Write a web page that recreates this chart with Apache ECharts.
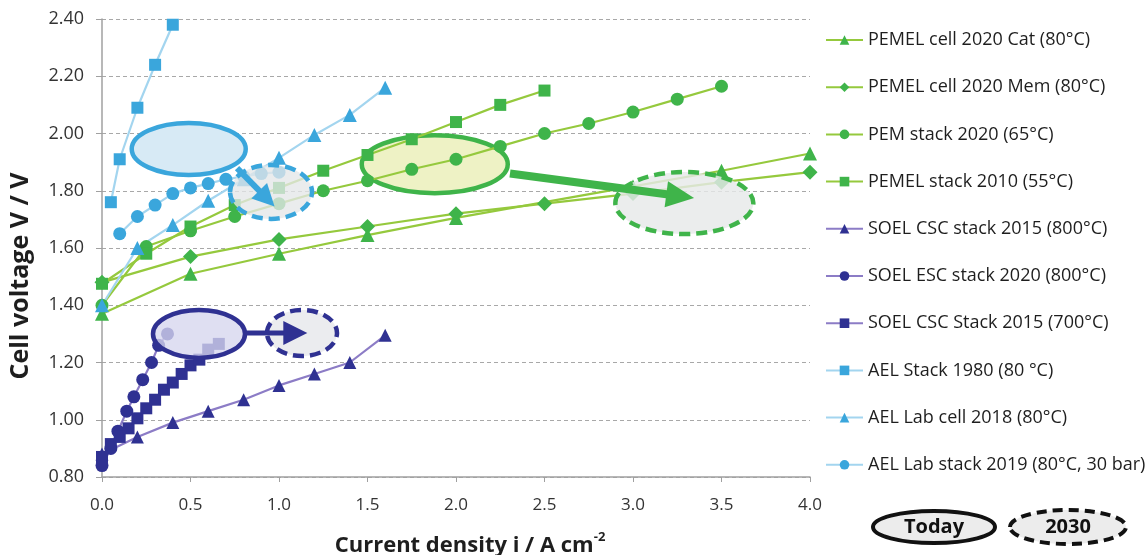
<!DOCTYPE html>
<html>
<head>
<meta charset="utf-8">
<script src="https://cdn.jsdelivr.net/npm/echarts@6/dist/echarts.min.js"></script>
<style>
  html, body { margin: 0; padding: 0; background: #fff; }
  #chart { width: 1146px; height: 555px; }
</style>
</head>
<body>
<div id="chart"></div>
<script>
// Polarisation curves: current density (A/cm²) vs cell voltage (V)
const xTicks = [0, 0.5, 1.0, 1.5, 2.0, 2.5, 3.0, 3.5, 4.0];
const yTicks = [0.8, 1.0, 1.2, 1.4, 1.6, 1.8, 2.0, 2.2, 2.4];

const pemCellCatI = [0, 0.5, 1.0, 1.5, 2.0, 3.0, 3.5, 4.0];
const pemCellCatV = [1.37, 1.51, 1.58, 1.645, 1.705, 1.815, 1.87, 1.93];

const pemCellMemI = [0, 0.5, 1.0, 1.5, 2.0, 2.5, 3.0, 3.5, 4.0];
const pemCellMemV = [1.48, 1.57, 1.63, 1.675, 1.72, 1.755, 1.79, 1.83, 1.865];

const pemStack2020I = [0, 0.25, 0.5, 0.75, 1.0, 1.25, 1.5, 1.75, 2.0, 2.25, 2.5, 2.75, 3.0, 3.25, 3.5];
const pemStack2020V = [1.40, 1.605, 1.66, 1.71, 1.755, 1.80, 1.835, 1.875, 1.91, 1.955, 2.00, 2.035, 2.075, 2.12, 2.165];

const pemStack2010I = [0, 0.25, 0.5, 0.75, 1.0, 1.25, 1.5, 1.75, 2.0, 2.25, 2.5];
const pemStack2010V = [1.475, 1.58, 1.675, 1.75, 1.81, 1.87, 1.925, 1.98, 2.04, 2.10, 2.15];

const soelCsc800I = [0, 0.2, 0.4, 0.6, 0.8, 1.0, 1.2, 1.4, 1.6];
const soelCsc800V = [0.88, 0.94, 0.99, 1.03, 1.07, 1.12, 1.16, 1.20, 1.295];

const soelEscI = [0, 0.05, 0.09, 0.14, 0.18, 0.23, 0.28, 0.32, 0.37];
const soelEscV = [0.84, 0.90, 0.96, 1.03, 1.08, 1.14, 1.20, 1.26, 1.30];

const soelCsc700I = [0, 0.05, 0.1, 0.15, 0.2, 0.25, 0.3, 0.35, 0.4, 0.45, 0.5, 0.55, 0.6, 0.66];
const soelCsc700V = [0.87, 0.915, 0.94, 0.97, 1.005, 1.04, 1.07, 1.105, 1.13, 1.16, 1.19, 1.21, 1.245, 1.265];

const aelStack1980I = [0.05, 0.1, 0.2, 0.3, 0.4];
const aelStack1980V = [1.76, 1.91, 2.09, 2.24, 2.38];

const aelLabCellI = [0, 0.2, 0.4, 0.6, 0.8, 1.0, 1.2, 1.4, 1.6];
const aelLabCellV = [1.40, 1.60, 1.68, 1.765, 1.84, 1.915, 1.995, 2.065, 2.16];

const aelLabStackI = [0.1, 0.2, 0.3, 0.4, 0.5, 0.6, 0.7, 0.8, 0.9, 1.0];
const aelLabStackV = [1.65, 1.71, 1.75, 1.79, 1.81, 1.825, 1.84, 1.85, 1.86, 1.865];

const seriesNames = [
  'PEMEL cell 2020 Cat (80°C)',
  'PEMEL cell 2020 Mem (80°C)',
  'PEM stack 2020 (65°C)',
  'PEMEL stack 2010 (55°C)',
  'SOEL CSC stack 2015 (800°C)',
  'SOEL ESC stack 2020 (800°C)',
  'SOEL CSC Stack 2015 (700°C)',
  'AEL Stack 1980 (80 °C)',
  'AEL Lab cell 2018 (80°C)',
  'AEL Lab stack 2019 (80°C, 30 bar)'
];

const xTitle = 'Current density i / A cm';
const xTitleSup = '-2';
const yTitle = 'Cell voltage V / V';

const FONT = '"Open Sans", "Noto Sans", sans-serif';
const GREEN_LINE = '#95c93d', GREEN_MARK = '#3fb44a';
const PURPLE_LINE = '#8c7cc6', PURPLE_MARK = '#2f3192';
const BLUE_LINE = '#a3d5ef', BLUE_MARK = '#3aa6dc';

function pairs(xs, ys) { return xs.map((x, i) => [x, ys[i]]); }

function curve(name, xs, ys, symbol, size, lineColor, markColor) {
  return {
    name, type: 'line', data: pairs(xs, ys),
    symbol, symbolSize: size, showSymbol: true,
    lineStyle: { color: lineColor, width: 2.2 },
    itemStyle: { color: markColor },
    emphasis: { disabled: true },
    animation: false
  };
}

const series = [
  curve(seriesNames[0], pemCellCatI, pemCellCatV, 'triangle', 14, GREEN_LINE, GREEN_MARK),
  curve(seriesNames[1], pemCellMemI, pemCellMemV, 'diamond', 15, GREEN_LINE, GREEN_MARK),
  curve(seriesNames[2], pemStack2020I, pemStack2020V, 'circle', 13, GREEN_LINE, GREEN_MARK),
  curve(seriesNames[3], pemStack2010I, pemStack2010V, 'rect', 12, GREEN_LINE, GREEN_MARK),
  curve(seriesNames[4], soelCsc800I, soelCsc800V, 'triangle', 13, PURPLE_LINE, PURPLE_MARK),
  curve(seriesNames[5], soelEscI, soelEscV, 'circle', 13, PURPLE_LINE, PURPLE_MARK),
  curve(seriesNames[6], soelCsc700I, soelCsc700V, 'rect', 12, PURPLE_LINE, PURPLE_MARK),
  curve(seriesNames[7], aelStack1980I, aelStack1980V, 'rect', 12, BLUE_LINE, BLUE_MARK),
  curve(seriesNames[8], aelLabCellI, aelLabCellV, 'triangle', 14, BLUE_LINE, BLUE_MARK),
  curve(seriesNames[9], aelLabStackI, aelLabStackV, 'circle', 13, BLUE_LINE, BLUE_MARK)
];

const chart = echarts.init(document.getElementById('chart'), null, { renderer: 'canvas' });

const option = {
  backgroundColor: '#ffffff',
  animation: false,
  grid: { left: 102, right: 336, top: 19, bottom: 78, containLabel: false },
  legend: {
    orient: 'vertical',
    left: 825, top: 31, padding: 0,
    itemWidth: 37, itemHeight: 12, itemGap: 29.2,
    data: seriesNames,
    textStyle: { fontFamily: FONT, fontSize: 18, color: '#1e1e1e' },
    selectedMode: false
  },
  xAxis: {
    type: 'value',
    min: xTicks[0], max: xTicks[xTicks.length - 1], interval: 0.5,
    axisLine: { show: true, lineStyle: { color: '#a0a0a0', width: 1.5 } },
    axisTick: { show: true, length: 5, lineStyle: { color: '#a0a0a0' } },
    splitLine: { show: false },
    axisLabel: {
      fontFamily: FONT, fontSize: 17, color: '#333', margin: 20,
      formatter: v => v.toFixed(1)
    }
  },
  yAxis: {
    type: 'value',
    min: yTicks[0], max: yTicks[yTicks.length - 1], interval: 0.2,
    axisLine: { show: true, lineStyle: { color: '#a0a0a0', width: 1.5 } },
    axisTick: { show: true, length: 6, lineStyle: { color: '#a0a0a0' } },
    splitLine: { show: true, lineStyle: { color: '#a8a8a8', type: [4, 3], width: 1 } },
    axisLabel: {
      fontFamily: FONT, fontSize: 18, color: '#333', margin: 18,
      formatter: v => v.toFixed(2)
    }
  },
  series
};

chart.setOption(option);

// Annotation overlays: "today" and "2030" regions for each technology
function px(p) { return chart.convertToPixel({ gridIndex: 0 }, p); }

function ellipse(center, rx, ry, stroke, fill, dashed, z) {
  const c = px(center);
  return {
    type: 'ellipse', z, silent: true,
    shape: { cx: c[0], cy: c[1], rx, ry },
    style: { fill, stroke, lineWidth: 4.5, lineDash: dashed ? [11, 6] : null }
  };
}

function arrow(from, to, color, width, headLen, headWidth) {
  const a = px(from), b = px(to);
  const dx = b[0] - a[0], dy = b[1] - a[1];
  const len = Math.sqrt(dx * dx + dy * dy);
  const ux = dx / len, uy = dy / len;
  const bx = b[0] - ux * headLen, by = b[1] - uy * headLen;
  const nx = -uy * headWidth / 2, ny = ux * headWidth / 2;
  return [
    { type: 'line', z: 110, silent: true,
      shape: { x1: a[0], y1: a[1], x2: bx + ux * 2, y2: by + uy * 2 },
      style: { stroke: color, lineWidth: width } },
    { type: 'polygon', z: 111, silent: true,
      shape: { points: [[b[0], b[1]], [bx + nx, by + ny], [bx - nx, by - ny]] },
      style: { fill: color } }
  ];
}

const graphics = [
  // alkaline
  ellipse([0.49, 1.946], 57, 26, BLUE_MARK, '#d7eaf5', false, 100),
  ellipse([0.955, 1.796], 41, 27, BLUE_MARK, 'rgba(228,231,232,0.78)', true, 100),
  ...arrow([0.763, 1.879], [0.975, 1.745], BLUE_MARK, 6, 22, 22),
  // PEM
  ellipse([1.88, 1.893], 73, 29, GREEN_MARK, 'rgba(232,237,178,0.75)', false, 1),
  ellipse([3.29, 1.757], 69, 31, GREEN_MARK, 'rgba(230,233,233,0.82)', true, 100),
  ...arrow([2.305, 1.86], [3.345, 1.775], GREEN_MARK, 8, 28, 26),
  // solid oxide
  ellipse([0.548, 1.30], 46, 24, PURPLE_MARK, 'rgba(214,214,238,0.78)', false, 100),
  ellipse([1.13, 1.303], 35, 23, PURPLE_MARK, 'rgba(230,232,236,0.82)', true, 100),
  ...arrow([0.81, 1.303], [1.16, 1.303], PURPLE_MARK, 5, 24, 24),
  // axis titles
  { type: 'text', z: 50, silent: true, x: 21, y: 276, rotation: Math.PI / 2,
    style: { text: yTitle, fontFamily: FONT, fontSize: 25, fontWeight: 'bold', fill: '#1e1e1e', align: 'center', verticalAlign: 'middle' } },
  { type: 'text', z: 50, silent: true, x: 470, y: 544,
    style: {
      text: '{t|' + xTitle + '}{s|' + xTitleSup + '}',
      align: 'center', verticalAlign: 'middle',
      rich: {
        t: { fontFamily: FONT, fontSize: 22, fontWeight: 'bold', fill: '#1e1e1e', lineHeight: 26, verticalAlign: 'bottom' },
        s: { fontFamily: FONT, fontSize: 13, fontWeight: 'bold', fill: '#1e1e1e', lineHeight: 26, verticalAlign: 'top' }
      }
    } },
  // key
  { type: 'ellipse', z: 100, silent: true,
    shape: { cx: 934, cy: 527, rx: 61, ry: 16 },
    style: { fill: '#ececec', stroke: '#111', lineWidth: 4 } },
  { type: 'text', z: 101, silent: true, x: 934, y: 527,
    style: { text: 'Today', fontFamily: FONT, fontSize: 20, fontWeight: 'bold', fill: '#111', align: 'center', verticalAlign: 'middle' } },
  { type: 'ellipse', z: 100, silent: true,
    shape: { cx: 1068, cy: 527, rx: 58, ry: 17 },
    style: { fill: '#ececec', stroke: '#111', lineWidth: 4, lineDash: [10, 6] } },
  { type: 'text', z: 101, silent: true, x: 1068, y: 527,
    style: { text: '2030', fontFamily: FONT, fontSize: 20, fontWeight: 'bold', fill: '#111', align: 'center', verticalAlign: 'middle' } }
];

chart.setOption({ graphic: graphics });
</script>
</body>
</html>
